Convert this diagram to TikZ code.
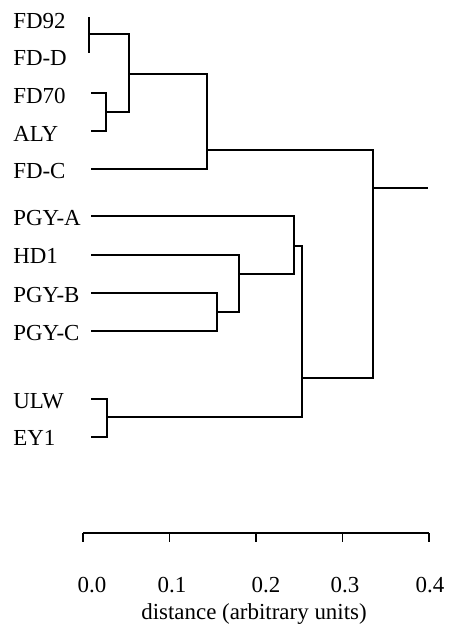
\documentclass[tikz,border=0pt]{standalone}
\usepackage{fontspec}
\setmainfont{Liberation Serif}
\usepackage{tikz}

\begin{document}
\begin{tikzpicture}[x=0.75pt,y=0.75pt,yscale=-1,xscale=1,
  branch/.style={line width=1.4pt,line join=miter},
  leaf/.style={anchor=west,inner sep=0pt,font=\fontsize{17.2}{20}\selectfont},
  ticklabel/.style={inner sep=0pt,font=\fontsize{17.2}{20}\selectfont}]
\useasboundingbox (0,0) rectangle (456,633);

% Text Node
\node[leaf] (fd92) at (13,21) {FD92};
% Text Node
\node[leaf] (fdd) at (13,58) {FD-D};
% Text Node
\node[leaf] (fd70) at (13,96) {FD70};
% Text Node
\node[leaf] (aly) at (13,134) {ALY};
% Text Node
\node[leaf] (fdc) at (13,171) {FD-C};
% Text Node
\node[leaf] (pgya) at (13,218) {PGY-A};
% Text Node
\node[leaf] (hd1) at (13,256) {HD1};
% Text Node
\node[leaf] (pgyb) at (13,295) {PGY-B};
% Text Node
\node[leaf] (pgyc) at (13,333) {PGY-C};
% Text Node
\node[leaf] (ulw) at (13,401) {ULW};
% Text Node
\node[leaf] (ey1) at (13,438) {EY1};

% leaf ends
\coordinate (lfd92) at (89,17);
\coordinate (lfdd) at (89,53);
\coordinate (lfd70) at (91,93);
\coordinate (laly) at (91,131);
\coordinate (lfdc) at (91,169);
\coordinate (lpgya) at (91,216);
\coordinate (lhd1) at (91,255);
\coordinate (lpgyb) at (91,293);
\coordinate (lpgyc) at (91,331);
\coordinate (lulw) at (91,399);
\coordinate (ley1) at (91,437);

% joins
\coordinate (ja) at (89,34);
\coordinate (jb) at (106,112);
\coordinate (jc) at (129,74);
\coordinate (jd) at (207,150);
\coordinate (je) at (217,312);
\coordinate (jf) at (239,274);
\coordinate (jg) at (294,246);
\coordinate (jh) at (107,417);
\coordinate (ji) at (302,378);
\coordinate (jroot) at (373,188);
\coordinate (rootend) at (428,188);

%Straight Lines
\draw[branch] (lfd92) -- (lfdd);
\draw[branch] (lfd70) -| (jb) |- (laly);
\draw[branch] (jb) -| (jc) |- (ja);
\draw[branch] (jc) -| (jd) |- (lfdc);
\draw[branch] (lpgyb) -| (je) |- (lpgyc);
\draw[branch] (lhd1) -| (jf) |- (je);
\draw[branch] (lpgya) -| (jg) |- (jf);
\draw[branch] (lulw) -| (jh) |- (ley1);
\draw[branch] (jg) -| (ji) |- (jh);
\draw[branch] (jd) -| (jroot) |- (ji);
\draw[branch] (jroot) -- (rootend);

% axis
\coordinate (ax0) at (83,533);
\coordinate (ax1) at (429,533);
\draw[branch] (ax0) -- (ax1);
\foreach \i in {0,...,4}
  \draw[branch] (83+86.5*\i,533) -- ++(0,9);
\foreach \v/\x [count=\i from 0] in {0.0/92,0.1/172,0.2/266,0.3/345,0.4/430}
  \node[ticklabel] (tick\i) at (\x,585) {\v};
% Text Node
\node[ticklabel] (axlabel) at (254,614) {distance (arbitrary units)};

\end{tikzpicture}
\end{document}
